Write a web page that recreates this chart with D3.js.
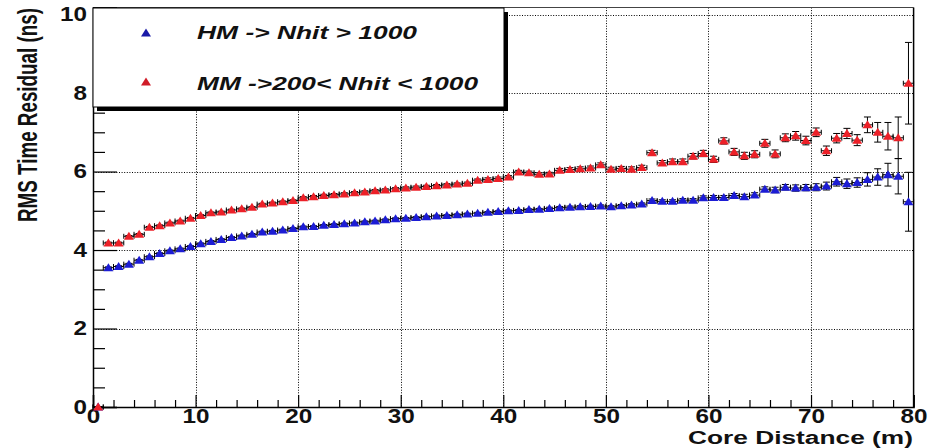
<!DOCTYPE html>
<html>
<head>
<meta charset="utf-8">
<script src="https://cdn.jsdelivr.net/npm/d3@7"></script>
<style>
  body { margin: 0; background: #fff; }
  svg { display: block; font-family: "Liberation Sans", Arial, sans-serif; }
</style>
</head>
<body>
<div id="chart-container"></div>
<script>
// Bin centres, core distance (m)
const binCenters = [
  0.5, 1.5, 2.5, 3.5, 4.5, 5.5, 6.5, 7.5, 8.5, 9.5,
  10.5, 11.5, 12.5, 13.5, 14.5, 15.5, 16.5, 17.5, 18.5, 19.5,
  20.5, 21.5, 22.5, 23.5, 24.5, 25.5, 26.5, 27.5, 28.5, 29.5,
  30.5, 31.5, 32.5, 33.5, 34.5, 35.5, 36.5, 37.5, 38.5, 39.5,
  40.5, 41.5, 42.5, 43.5, 44.5, 45.5, 46.5, 47.5, 48.5, 49.5,
  50.5, 51.5, 52.5, 53.5, 54.5, 55.5, 56.5, 57.5, 58.5, 59.5,
  60.5, 61.5, 62.5, 63.5, 64.5, 65.5, 66.5, 67.5, 68.5, 69.5,
  70.5, 71.5, 72.5, 73.5, 74.5, 75.5, 76.5, 77.5, 78.5, 79.5
];

// HM -> Nhit > 1000 (blue)
const hmValues = [
  0, 3.55, 3.58, 3.64, 3.74, 3.83, 3.91, 3.98, 4.03, 4.09,
  4.16, 4.22, 4.27, 4.32, 4.36, 4.40, 4.46, 4.48, 4.51, 4.55,
  4.59, 4.60, 4.63, 4.65, 4.67, 4.69, 4.72, 4.74, 4.77, 4.80,
  4.81, 4.83, 4.85, 4.87, 4.88, 4.90, 4.92, 4.94, 4.96, 4.98,
  5.00, 5.01, 5.03, 5.04, 5.06, 5.08, 5.09, 5.10, 5.11, 5.12,
  5.10, 5.13, 5.15, 5.17, 5.26, 5.24, 5.24, 5.27, 5.27, 5.33,
  5.34, 5.34, 5.39, 5.36, 5.40, 5.55, 5.53, 5.60, 5.58, 5.59,
  5.60, 5.63, 5.74, 5.69, 5.72, 5.80, 5.86, 5.92, 5.88, 5.23
];
const hmErrors = [
  0, 0.02, 0.02, 0.02, 0.02, 0.02, 0.02, 0.02, 0.02, 0.02,
  0.02, 0.02, 0.02, 0.02, 0.02, 0.02, 0.02, 0.02, 0.02, 0.02,
  0.02, 0.02, 0.02, 0.02, 0.02, 0.02, 0.02, 0.02, 0.02, 0.02,
  0.02, 0.02, 0.02, 0.02, 0.02, 0.02, 0.02, 0.02, 0.02, 0.02,
  0.02, 0.02, 0.02, 0.02, 0.03, 0.03, 0.03, 0.03, 0.03, 0.03,
  0.03, 0.03, 0.03, 0.03, 0.04, 0.04, 0.04, 0.04, 0.04, 0.05,
  0.05, 0.05, 0.05, 0.06, 0.06, 0.06, 0.07, 0.07, 0.08, 0.08,
  0.09, 0.10, 0.11, 0.12, 0.12, 0.17, 0.21, 0.29, 0.45, 0.75
];

// MM -> 200 < Nhit < 1000 (red)
const mmValues = [
  0, 4.18, 4.18, 4.35, 4.40, 4.58, 4.62, 4.69, 4.74, 4.81,
  4.88, 4.95, 4.97, 5.02, 5.05, 5.09, 5.17, 5.20, 5.23, 5.26,
  5.33, 5.36, 5.39, 5.41, 5.43, 5.46, 5.48, 5.51, 5.53, 5.56,
  5.58, 5.60, 5.62, 5.64, 5.66, 5.68, 5.70, 5.78, 5.80, 5.82,
  5.86, 5.99, 5.97, 5.93, 5.94, 6.03, 6.05, 6.07, 6.09, 6.17,
  6.06, 6.08, 6.06, 6.10, 6.48, 6.22, 6.25, 6.25, 6.39, 6.46,
  6.31, 6.78, 6.50, 6.40, 6.44, 6.72, 6.45, 6.86, 6.91, 6.79,
  7.00, 6.53, 6.85, 6.97, 6.80, 7.19, 7.00, 6.90, 6.86, 8.25
];
const mmErrors = [
  0, 0.02, 0.02, 0.02, 0.02, 0.02, 0.02, 0.02, 0.02, 0.02,
  0.02, 0.02, 0.02, 0.02, 0.02, 0.02, 0.02, 0.02, 0.02, 0.02,
  0.03, 0.03, 0.03, 0.03, 0.03, 0.03, 0.03, 0.03, 0.03, 0.03,
  0.03, 0.03, 0.03, 0.03, 0.03, 0.03, 0.03, 0.03, 0.04, 0.04,
  0.04, 0.04, 0.04, 0.04, 0.04, 0.05, 0.05, 0.05, 0.05, 0.05,
  0.05, 0.05, 0.06, 0.06, 0.06, 0.06, 0.07, 0.07, 0.07, 0.08,
  0.08, 0.08, 0.09, 0.09, 0.09, 0.10, 0.10, 0.10, 0.11, 0.11,
  0.11, 0.12, 0.12, 0.13, 0.14, 0.20, 0.25, 0.35, 0.53, 1.04
];

// Axis ticks and texts
const xMajorTicks = [0, 10, 20, 30, 40, 50, 60, 70, 80];
const yMajorTicks = [0, 2, 4, 6, 8, 10];
const legendLabels = ["HM -> Nhit > 1000", "MM ->200< Nhit < 1000"];
const xTitle = "Core Distance (m)";
const yTitle = "RMS Time Residual (ns)";

const colors = { hm: "#1c1cd4", mm: "#ec2028" };

// Dimensions and margins of the frame
const W = 937, H = 448;
const margin = { top: 7.5, right: 23.4, bottom: 41, left: 93 };
const width = W - margin.left - margin.right;
const height = H - margin.top - margin.bottom;

const svg = d3
  .select("#chart-container")
  .append("svg")
  .attr("width", W)
  .attr("height", H);

const xScale = d3.scaleLinear().domain([0, 80]).range([margin.left, margin.left + width]);
const yScale = d3.scaleLinear().domain([0, 10.18]).range([margin.top + height, margin.top]);

const x0 = margin.left, x1 = margin.left + width;
const y0 = margin.top + height, y1 = margin.top;

// Grid lines (dotted, at the major ticks)
const grid = svg.append("g").attr("class", "grid")
  .attr("stroke", "#000").attr("stroke-width", 1).attr("stroke-dasharray", "1,1.6");
grid.selectAll(".gx")
  .data(xMajorTicks.filter((d) => d > 0 && d < 80))
  .join("line")
  .attr("x1", (d) => Math.round(xScale(d)) + 0.5)
  .attr("x2", (d) => Math.round(xScale(d)) + 0.5)
  .attr("y1", y1)
  .attr("y2", y0);
grid.selectAll(".gy")
  .data(yMajorTicks.filter((d) => d > 0))
  .join("line")
  .attr("x1", x0)
  .attr("x2", x1)
  .attr("y1", (d) => Math.round(yScale(d)) + 0.5)
  .attr("y2", (d) => Math.round(yScale(d)) + 0.5);

// Frame top and right
svg.append("line").attr("x1", x0).attr("x2", x1).attr("y1", y1).attr("y2", y1)
  .attr("stroke", "#444").attr("stroke-width", 1);
svg.append("line").attr("x1", x1).attr("x2", x1).attr("y1", y1).attr("y2", y0)
  .attr("stroke", "#000").attr("stroke-width", 1.5);

// Axes (ROOT style: ticks point inside the frame)
const xAxisGroup = svg.append("g")
  .attr("transform", `translate(0,${y0})`)
  .call(d3.axisBottom(xScale).tickValues(xMajorTicks).tickSize(-12).tickPadding(1.5).tickFormat(d3.format("d")));
svg.append("g")
  .attr("transform", `translate(0,${y0})`)
  .call(d3.axisBottom(xScale)
    .tickValues(d3.range(0, 81, 2).filter((d) => d % 10 !== 0))
    .tickSize(-7).tickFormat(""))
  .call((g) => g.select(".domain").remove());

const yAxisGroup = svg.append("g")
  .attr("transform", `translate(${x0},0)`)
  .call(d3.axisLeft(yScale).tickValues(yMajorTicks).tickSize(-24).tickPadding(6).tickFormat(d3.format("d")));
svg.append("g")
  .attr("transform", `translate(${x0},0)`)
  .call(d3.axisLeft(yScale)
    .tickValues(d3.range(0.5, 10.1, 0.5).filter((d) => d % 2 !== 0))
    .tickSize(-12).tickFormat(""))
  .call((g) => g.select(".domain").remove());

svg.selectAll(".domain").attr("stroke-width", 1.5);
svg.selectAll(".tick line").attr("stroke", "#000").attr("stroke-width", 1.2);

xAxisGroup.selectAll("text")
  .attr("font-size", 21).attr("font-weight", "bold").attr("fill", "#111")
  .attr("textLength", function () { return this.textContent.length * 13.5; })
  .attr("lengthAdjust", "spacingAndGlyphs");
yAxisGroup.selectAll("text")
  .attr("font-size", 19.5).attr("font-weight", "bold").attr("fill", "#111")
  .attr("textLength", function () { return this.textContent.length * 13.5; })
  .attr("lengthAdjust", "spacingAndGlyphs");

// Axis titles
svg.append("text")
  .attr("x", 913).attr("y", 444)
  .attr("text-anchor", "end")
  .attr("font-size", 17.5).attr("font-weight", "bold").attr("fill", "#111")
  .attr("textLength", 225).attr("lengthAdjust", "spacingAndGlyphs")
  .text(xTitle);
svg.append("text")
  .attr("transform", "translate(37,222) scale(1.47,1) rotate(-90)")
  .attr("font-size", 19).attr("font-weight", "bold").attr("fill", "#111")
  .attr("textLength", 214).attr("lengthAdjust", "spacingAndGlyphs")
  .text(yTitle);

// Series with error bars (E1 style)
const triangle = "M0,-4.5L5,3.5L-5,3.5Z";

function drawSeries(values, errors, color) {
  const data = binCenters.map((c, i) => ({ x: c, y: values[i], e: errors[i] }));
  const g = svg.append("g");
  const errs = g.append("g").attr("stroke", "#000").attr("stroke-width", 1).attr("fill", "none");
  errs.selectAll("path")
    .data(data)
    .join("path")
    .attr("d", (d) => {
      const xl = xScale(d.x - 0.5), xr = xScale(d.x + 0.5), xc = xScale(d.x);
      const yc = yScale(d.y), yt = yScale(d.y + d.e), yb = yScale(d.y - d.e);
      return `M${xl},${yc}H${xr}` +
        `M${xl},${yc - 2.5}V${yc + 2.5}M${xr},${yc - 2.5}V${yc + 2.5}` +
        `M${xc},${yt}V${yb}` +
        `M${xc - 3.5},${yt}H${xc + 3.5}M${xc - 3.5},${yb}H${xc + 3.5}`;
    });
  g.selectAll(".marker")
    .data(data)
    .join("path")
    .attr("class", "marker")
    .attr("d", triangle)
    .attr("fill", color)
    .attr("transform", (d) => `translate(${xScale(d.x)},${yScale(d.y)})`);
}

drawSeries(hmValues, hmErrors, colors.hm);
drawSeries(mmValues, mmErrors, colors.mm);

// Legend with ROOT shadow
const legend = svg.append("g");
legend.append("rect")
  .attr("x", 97).attr("y", 12).attr("width", 411).attr("height", 99)
  .attr("fill", "#000");
legend.append("rect")
  .attr("x", 93).attr("y", 8).attr("width", 411).attr("height", 99)
  .attr("fill", "#fff").attr("stroke", "#000").attr("stroke-width", 1);

const legendItems = [
  { label: legendLabels[0], color: "#1a1aa8", my: 33, ty: 39, len: 220 },
  { label: legendLabels[1], color: "#d01c28", my: 82, ty: 89.5, len: 281 }
];
legendItems.forEach((it) => {
  legend.append("path")
    .attr("d", triangle)
    .attr("fill", it.color)
    .attr("transform", `translate(146,${it.my})`);
  legend.append("text")
    .attr("x", 197).attr("y", it.ty)
    .attr("font-size", 18).attr("font-weight", "bold").attr("font-style", "italic")
    .attr("fill", "#111")
    .attr("textLength", it.len).attr("lengthAdjust", "spacingAndGlyphs")
    .text(it.label);
});
</script>
</body>
</html>
